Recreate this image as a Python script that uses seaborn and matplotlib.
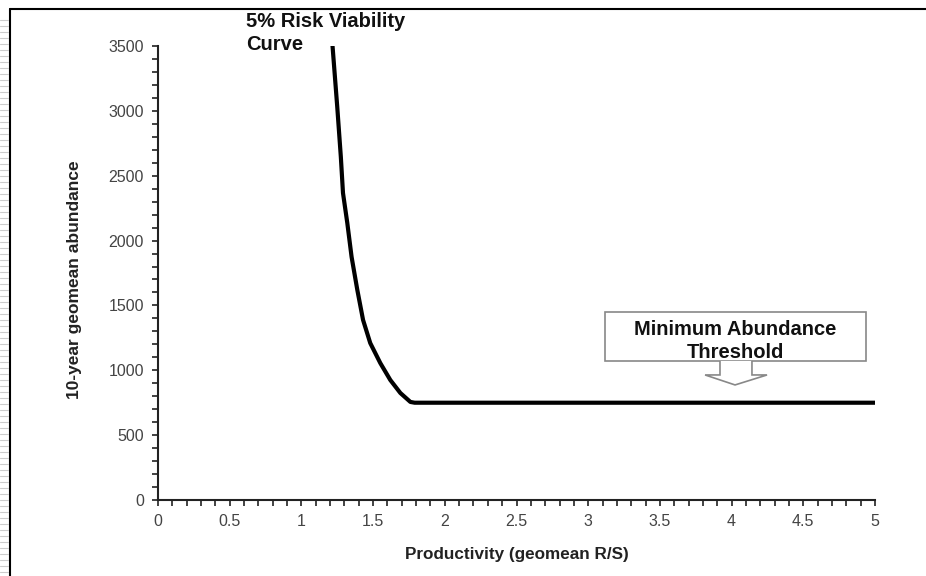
import matplotlib
matplotlib.use("Agg")
import matplotlib.pyplot as plt
from matplotlib.patches import Rectangle, Polygon
from matplotlib.ticker import MultipleLocator
import seaborn as sns
import pandas as pd

# ---- data ----
productivity = [1.215, 1.25, 1.275, 1.29, 1.32, 1.35, 1.39, 1.43, 1.48, 1.55, 1.62, 1.69, 1.76, 1.79, 2.5, 3.5, 5.0]
abundance    = [3530, 3030, 2645, 2367, 2136, 1874, 1619, 1388, 1210, 1056, 925, 825, 756, 750, 750, 750, 750]
x_ticks = [0, 0.5, 1, 1.5, 2, 2.5, 3, 3.5, 4, 4.5, 5]
x_tick_labels = ["0", "0.5", "1", "1.5", "2", "2.5", "3", "3.5", "4", "4.5", "5"]
curve_label = "5% Risk Viability\nCurve"
threshold_label = "Minimum Abundance\nThreshold"
x_label = "Productivity (geomean R/S)"
y_label = "10-year geomean abundance"

sns.set_theme(style="ticks")
plt.rcParams["font.family"] = ["Liberation Sans", "DejaVu Sans"]

fig = plt.figure(figsize=(9.26, 5.76), dpi=100)
ax = fig.add_axes([158/926, 1-500/576, (875-158)/926, (500-46)/576])

df = pd.DataFrame({"x": productivity, "y": abundance})
sns.lineplot(data=df, x="x", y="y", ax=ax, color="black", linewidth=3.0, sort=False, legend=False)

ax.set_xlim(0, 5)
ax.set_ylim(0, 3500)
ax.xaxis.set_minor_locator(MultipleLocator(0.1))
ax.yaxis.set_major_locator(MultipleLocator(500))
ax.yaxis.set_minor_locator(MultipleLocator(100))
ax.set_xticks(x_ticks)
ax.set_xticklabels(x_tick_labels)
ax.tick_params(which="both", direction="out", length=4, width=1.2, color="#222222")
ax.tick_params(which="major", labelsize=11.5, labelcolor="#444444", pad=6)
for s in ["top", "right"]:
    ax.spines[s].set_visible(False)
for s in ["left", "bottom"]:
    ax.spines[s].set_linewidth(1.5)
    ax.spines[s].set_color("#222222")
ax.set_xlabel(x_label, fontsize=12.3, fontweight="bold", color="#222222")
ax.set_ylabel(y_label, fontsize=12.5, fontweight="bold", color="#222222")
ax.xaxis.set_label_coords(0.5, -(555-500)/454, transform=ax.transAxes)
ax.xaxis.label.set_va("center")
ax.yaxis.set_label_coords((75-158)/717, (500-280)/454, transform=ax.transAxes)
ax.yaxis.label.set_va("center")
ax.set_facecolor("white")

# threshold box and arrow (annotation)
ax.add_patch(Rectangle((3.117, 1072), 4.937-3.117, 1449-1072, facecolor="white",
                       edgecolor="#888888", linewidth=1.2, zorder=3))
ax.text((3.117+4.937)/2, 1225, threshold_label, ha="center", va="center",
        fontsize=14.5, fontweight="bold", color="#111111", linespacing=1.3, zorder=4)
arrow = [(3.919, 1072), (3.919, 964), (3.815, 964), (4.024, 887), (4.247, 964),
         (4.142, 964), (4.142, 1072)]
ax.add_patch(Polygon(arrow, closed=False, facecolor="white", edgecolor="#888888",
                     linewidth=1.2, zorder=3))

# curve label at top
fig.text(246/926, 1-12/576, curve_label, ha="left", va="top", fontsize=14.5,
         fontweight="bold", color="#111111", linespacing=1.25)

# page frame
fig.add_artist(plt.Line2D([10/926, 10/926], [0, 1-9/576], color="black", linewidth=1.5))
fig.add_artist(plt.Line2D([10/926, 1], [1-9/576, 1-9/576], color="black", linewidth=1.5))
for i in range(20, 576, 6):
    fig.add_artist(plt.Line2D([0, 8/926], [1-i/576, 1-i/576], color="#cccccc", linewidth=0.8))

fig.savefig("out.png", dpi=100, facecolor="white")
